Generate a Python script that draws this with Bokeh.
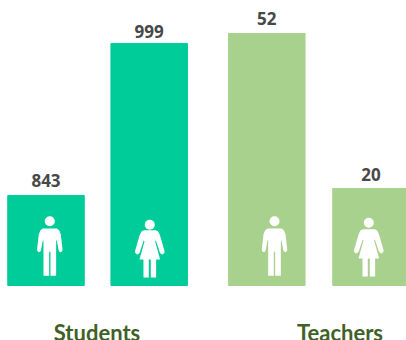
from bokeh.plotting import figure
from bokeh.models import Range1d
from bokeh.core.properties import value
from bokeh.embed import file_html
from bokeh.resources import INLINE

# data
student_values = [843, 999]
teacher_values = [52, 20]
student_labels = ["843", "999"]
teacher_labels = ["52", "20"]
groups = ["Students", "Teachers"]

# layout (figure pixels: x from left, y from bottom)
W, H = 406, 340
BASE = 55            # baseline height in pixels above the figure bottom
student_x = [45.5, 148.7]
teacher_x = [266.3, 370.5]
BAR_W = 76.5
group_x = [96.5, 339.5]
GREEN1, GREEN2 = "#00CC99", "#A9D18E"

s_scale = 152 / 156
t_scale = 155 / 32
s_start = 750.6 - BASE / s_scale
t_start = -0.03 - BASE / t_scale

p = figure(width=W, height=H, output_backend="svg", toolbar_location=None,
           x_range=Range1d(0, W), y_range=Range1d(0, H), min_border=0,
           outline_line_color=None, background_fill_color="white")
p.axis.visible = False
p.grid.visible = False
p.extra_y_ranges = {"students": Range1d(s_start, s_start + H / s_scale),
                    "teachers": Range1d(t_start, t_start + H / t_scale)}

p.vbar(x=student_x, top=student_values, bottom=750.6, width=BAR_W, color=GREEN1, y_range_name="students")
p.vbar(x=teacher_x, top=teacher_values, bottom=-0.03, width=BAR_W, color=GREEN2, y_range_name="teachers")

lab = dict(text_font=value("Open Sans"), text_font_style="bold", text_font_size="17px",
           text_color="#484848", text_align="center", text_baseline="bottom")
p.text(x=student_x, y=student_values, text=student_labels, y_range_name="students", y_offset=[-8, -5], **lab)
p.text(x=teacher_x, y=teacher_values, text=teacher_labels, y_range_name="teachers", y_offset=[-8, -7], **lab)

p.text(x=group_x, y=[8, 8], text=groups, text_font=value("Lato"), text_font_style="bold",
       text_font_size="22px", text_color="#3F6128", text_align="center", text_baseline="middle")

# pictograms: outlines in 3x pixel units, relative to bar centre; y measured down to a point 376 below origin
man = [(-21,205),(21,205),(28,210),(33,222),(38,266),(38,272),(33,276),(28,274),(26,268),(21,240),
       (19,242),(19,347),(2,347),(2,275),(-2,275),(-2,347),(-19,347),(-19,242),(-21,240),(-26,268),
       (-28,274),(-33,276),(-38,272),(-38,266),(-33,222),(-28,210)]
woman = [(-18,210),(18,210),(25,214),(30,224),(44,272),(44,278),(39,283),(33,281),(30,276),(18,240),
         (16,244),(31,298),(19,298),(19,352),(3,352),(3,298),(-3,298),(-3,352),(-19,352),(-19,298),
         (-31,298),(-16,244),(-18,240),(-30,276),(-33,281),(-39,283),(-44,278),(-44,272),(-30,224),(-25,214)]

def person(cx, shape, head_y, lift=0):
    xs = [cx + a / 3 for a, b in shape]
    ys = [BASE + (376 - b) / 3 + lift for a, b in shape]
    p.patch(xs, ys, color="white", line_width=0)
    p.scatter([cx], [BASE + (376 - head_y) / 3 + lift], size=10, color="white", line_width=0)

person(student_x[0] + 3.8, man, 183)
person(student_x[1] + 0.6, woman, 194)
person(teacher_x[0] + 7.7, man, 183)
person(teacher_x[1] - 2.2, woman, 191, lift=1)

open("out.html", "w").write(file_html(p, INLINE))
